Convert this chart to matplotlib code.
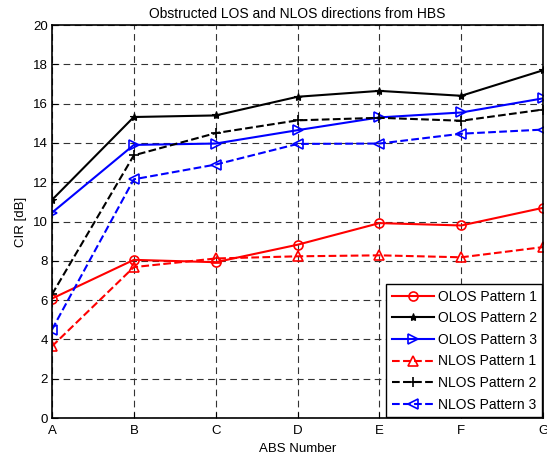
import matplotlib
matplotlib.use('Agg')
import matplotlib.pyplot as plt
import numpy as np

plt.rcParams['font.family'] = ['Liberation Sans', 'DejaVu Sans']

abs_labels = ['A', 'B', 'C', 'D', 'E', 'F', 'G']

olos_p1 = [6.08, 8.05, 7.93, 8.82, 9.92, 9.8, 10.7]
olos_p2 = [11.1, 15.32, 15.4, 16.35, 16.65, 16.4, 17.7]
olos_p3 = [10.45, 13.9, 13.97, 14.65, 15.3, 15.55, 16.27]
nlos_p1 = [3.65, 7.68, 8.12, 8.23, 8.28, 8.18, 8.7]
nlos_p2 = [6.29, 13.37, 14.5, 15.15, 15.28, 15.13, 15.7]
nlos_p3 = [4.5, 12.15, 12.9, 13.95, 13.97, 14.47, 14.68]

fig = plt.figure(figsize=(5.47, 4.58), dpi=100)
ax = fig.add_axes([0.095, 0.0873, 0.898, 0.858])

x = np.arange(len(abs_labels))
ms = 6.5
ax.plot(x, olos_p1, '-', color='red', marker='o', mfc='none', ms=ms, mew=1.2, lw=1.5, label='OLOS Pattern 1')
ax.plot(x, olos_p2, '-', color='black', marker='*', ms=6, mew=0.8, lw=1.5, label='OLOS Pattern 2')
ax.plot(x, olos_p3, '-', color='blue', marker='>', mfc='none', ms=ms, mew=1.2, lw=1.5, label='OLOS Pattern 3')
ax.plot(x, nlos_p1, '--', color='red', marker='^', mfc='none', ms=ms, mew=1.2, lw=1.5, label='NLOS Pattern 1')
ax.plot(x, nlos_p2, '--', color='black', marker='+', ms=ms, mew=1.2, lw=1.5, label='NLOS Pattern 2')
ax.plot(x, nlos_p3, '--', color='blue', marker='<', mfc='none', ms=ms, mew=1.2, lw=1.5, label='NLOS Pattern 3')

ax.set_xlim(0, 6)
ax.set_ylim(0, 20)
ax.set_xticks(x)
ax.set_xticklabels(abs_labels)
ax.set_yticks(np.arange(0, 21, 2))
ax.grid(True, color='#333333', linestyle=(0, (6, 4)), linewidth=0.8)
ax.tick_params(direction='in', labelsize=9.5, length=4, pad=3)
ax.tick_params(axis='x', pad=5)
for s in ax.spines.values():
    s.set_linewidth(1.2)

ax.set_xlabel('ABS Number', fontsize=9.5, labelpad=4)
ax.set_ylabel('CIR [dB]', fontsize=9.5, labelpad=4)
ax.set_title('Obstructed LOS and NLOS directions from HBS', fontsize=10, pad=5)

leg = ax.legend(loc='lower right', fontsize=10, fancybox=False, framealpha=1,
                edgecolor='black', borderaxespad=0.05, handlelength=3.0,
                handletextpad=0.3, labelspacing=0.55, borderpad=0.4)
leg.get_frame().set_linewidth(1.0)

fig.savefig('out.png', dpi=100)
